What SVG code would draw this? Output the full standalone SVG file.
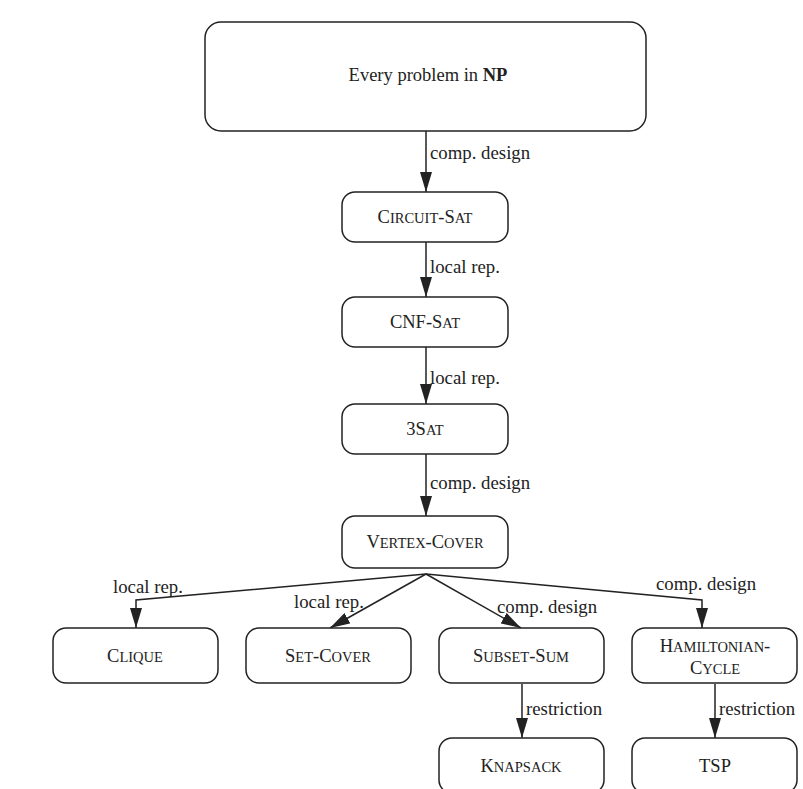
<svg xmlns="http://www.w3.org/2000/svg" width="803" height="789" viewBox="0 0 803 789">
<style>
.box{fill:#fff;stroke:#222;stroke-width:1.5}
.lbl{font-family:"Liberation Serif","Times New Roman",serif;font-size:18.8px;fill:#222}
.nm{font-family:"Liberation Serif","Times New Roman",serif;font-size:18.5px;fill:#222;text-anchor:middle}
.sc{font-size:14.5px}
.edge{fill:none;stroke:#222;stroke-width:1.5}
</style>
<defs>
<marker id="ah" markerUnits="userSpaceOnUse" markerWidth="22" markerHeight="12" refX="20" refY="6" orient="auto">
<path d="M0,0 L20,6 L0,12 Z" fill="#222"/>
</marker>
</defs>
<rect width="803" height="789" fill="#fff"/>
<g id="connectors">
<path class="edge" d="M426,131 V192" marker-end="url(#ah)"/>
<path class="edge" d="M426,242 V297" marker-end="url(#ah)"/>
<path class="edge" d="M426,347 V404" marker-end="url(#ah)"/>
<path class="edge" d="M426,454 V516" marker-end="url(#ah)"/>
<path class="edge" d="M426,574 L136,600 V628" marker-end="url(#ah)"/>
<path class="edge" d="M426,574 L330,628" marker-end="url(#ah)"/>
<path class="edge" d="M426,574 L521,628" marker-end="url(#ah)"/>
<path class="edge" d="M426,574 L702,600 V628" marker-end="url(#ah)"/>
<path class="edge" d="M522,684 V738" marker-end="url(#ah)"/>
<path class="edge" d="M715,684 V738" marker-end="url(#ah)"/>
<text class="lbl" x="430" y="159">comp. design</text>
<text class="lbl" x="430" y="273">local rep.</text>
<text class="lbl" x="430" y="384">local rep.</text>
<text class="lbl" x="430" y="489">comp. design</text>
<text class="lbl" x="113" y="593">local rep.</text>
<text class="lbl" x="294" y="608">local rep.</text>
<text class="lbl" x="497" y="613">comp. design</text>
<text class="lbl" x="656" y="590">comp. design</text>
<text class="lbl" x="526" y="715">restriction</text>
<text class="lbl" x="719" y="715">restriction</text>
</g>
<g id="np">
<rect class="box" x="205" y="22" width="441" height="109" rx="16"/>
<text class="nm" x="428" y="81" font-size="19">Every problem in <tspan font-weight="bold">NP</tspan></text>
</g>
<g id="circuit-sat">
<rect class="box" x="342" y="192" width="166" height="50" rx="13"/>
<text class="nm" x="425" y="223">C<tspan class="sc">IRCUIT</tspan>-S<tspan class="sc">AT</tspan></text>
</g>
<g id="cnf-sat">
<rect class="box" x="342" y="297" width="166" height="50" rx="13"/>
<text class="nm" x="425" y="328">CNF-S<tspan class="sc">AT</tspan></text>
</g>
<g id="3sat">
<rect class="box" x="342" y="404" width="166" height="50" rx="13"/>
<text class="nm" x="425" y="435">3S<tspan class="sc">AT</tspan></text>
</g>
<g id="vertex-cover">
<rect class="box" x="342" y="516" width="166" height="52" rx="13"/>
<text class="nm" x="425" y="548">V<tspan class="sc">ERTEX</tspan>-C<tspan class="sc">OVER</tspan></text>
</g>
<g id="clique">
<rect class="box" x="53" y="628" width="165" height="55" rx="13"/>
<text class="nm" x="135" y="662">C<tspan class="sc">LIQUE</tspan></text>
</g>
<g id="set-cover">
<rect class="box" x="246" y="628" width="165" height="55" rx="13"/>
<text class="nm" x="328" y="662">S<tspan class="sc">ET</tspan>-C<tspan class="sc">OVER</tspan></text>
</g>
<g id="subset-sum">
<rect class="box" x="439" y="628" width="165" height="55" rx="13"/>
<text class="nm" x="521" y="662">S<tspan class="sc">UBSET</tspan>-S<tspan class="sc">UM</tspan></text>
</g>
<g id="hamiltonian-cycle">
<rect class="box" x="632" y="628" width="165" height="55" rx="13"/>
<text class="nm" x="715" y="652">H<tspan class="sc">AMILTONIAN</tspan>-</text>
<text class="nm" x="715" y="674">C<tspan class="sc">YCLE</tspan></text>
</g>
<g id="knapsack">
<rect class="box" x="439" y="738" width="165" height="55" rx="13"/>
<text class="nm" x="521" y="772">K<tspan class="sc">NAPSACK</tspan></text>
</g>
<g id="tsp">
<rect class="box" x="632" y="738" width="165" height="55" rx="13"/>
<text class="nm" x="715" y="772">TSP</text>
</g>
</svg>
